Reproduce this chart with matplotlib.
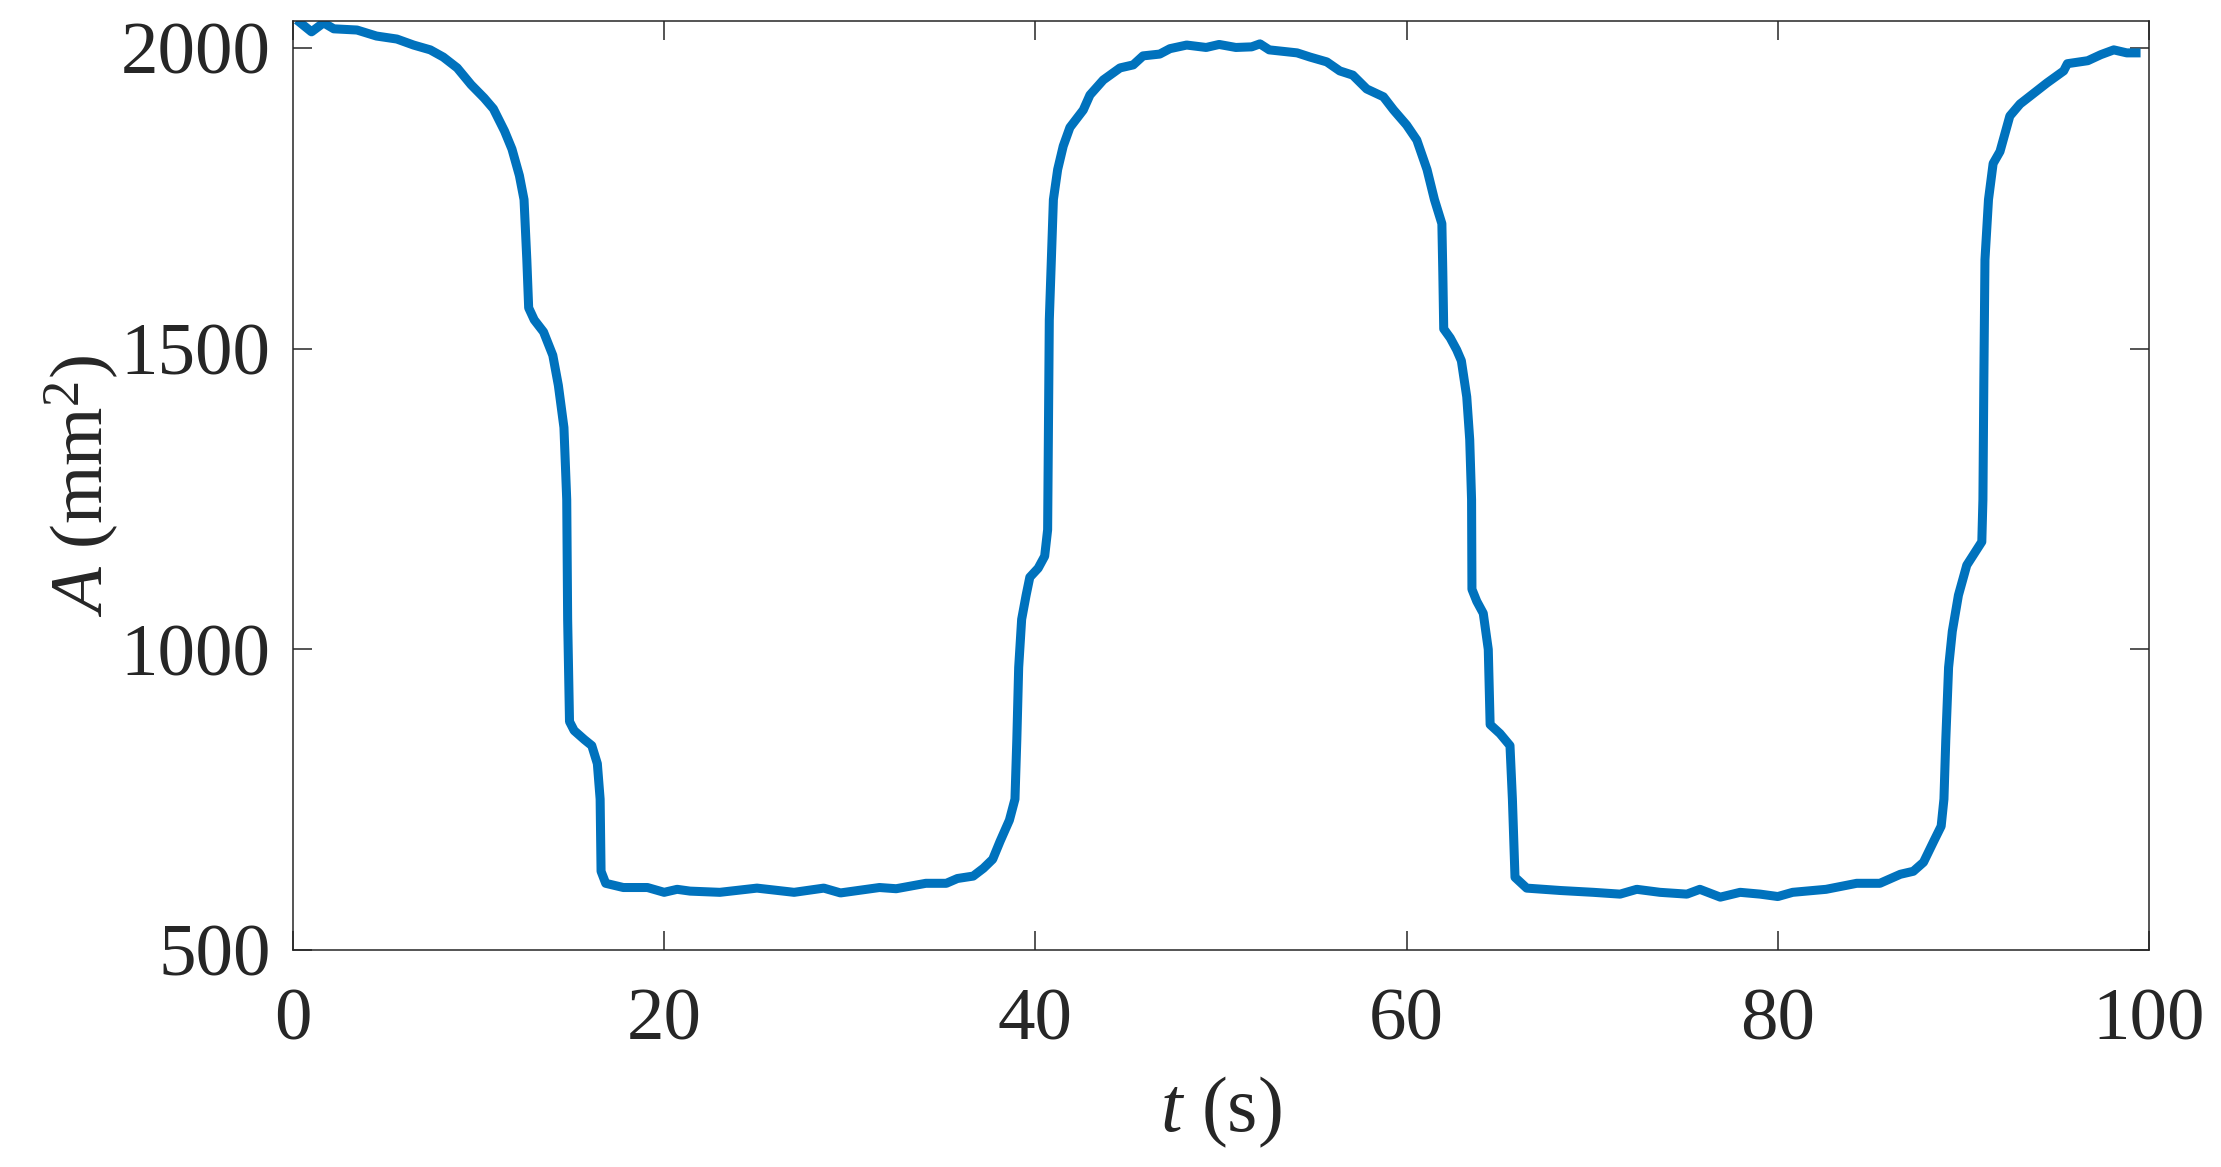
import numpy as np
import matplotlib
matplotlib.use("Agg")
import matplotlib.pyplot as plt

# --- data (time in s, area in mm^2) ---
t_s = [0.4, 1.0, 1.65, 2.2, 3.45, 4.5, 5.6, 6.5, 7.4, 8.1, 8.85, 9.6, 10.3, 10.8,
       11.4, 11.8, 12.2, 12.45, 12.6, 12.7, 13.0, 13.5, 14.0, 14.3, 14.6, 14.75,
       14.8, 14.9, 15.15, 15.7, 16.1, 16.4, 16.55, 16.6, 16.85, 17.8, 19.1, 20.0,
       20.7, 21.4, 23.0, 25.0, 27.0, 28.6, 29.5, 31.6, 32.5, 34.1, 35.2, 35.8,
       36.65, 37.2, 37.7, 38.1, 38.6, 38.9, 39.0, 39.1, 39.26, 39.5, 39.7, 40.15,
       40.5, 40.66, 40.7, 40.75, 40.88, 40.97, 41.2, 41.5, 41.86, 42.58, 42.94,
       43.66, 44.56, 45.27, 45.8, 46.7, 47.25, 48.15, 49.2, 49.9, 50.8, 51.65,
       52.1, 52.6, 54.1, 54.8, 55.7, 56.4, 57.1, 57.85, 58.75, 59.3, 60.0, 60.55,
       61.1, 61.5, 61.9, 61.95, 62.0, 62.35, 62.7, 62.95, 63.24, 63.4, 63.5,
       63.52, 63.78, 64.13, 64.4, 64.5, 65.03, 65.57, 65.7, 65.84, 66.47, 68.3,
       70.06, 71.5, 72.4, 73.65, 75.1, 75.8, 76.9, 77.97, 79.05, 80.0, 80.8,
       82.6, 84.25, 85.5, 86.6, 87.3, 87.85, 88.4, 88.8, 88.95, 89.05, 89.2,
       89.4, 89.73, 90.18, 90.7, 90.99, 91.05, 91.1, 91.16, 91.35, 91.6, 91.97,
       92.5, 93.05, 93.8, 94.5, 95.4, 95.6, 96.7, 97.4, 98.1, 98.8, 99.3]
area_mm2 = [2042, 2027, 2042, 2032, 2030, 2020, 2015, 2005, 1997, 1985, 1967, 1939,
            1917, 1899, 1862, 1832, 1788, 1748, 1648, 1568, 1548, 1528, 1489, 1439,
            1369, 1249, 1050, 880, 865, 850, 840, 810, 751, 631, 611, 604, 604, 596,
            601, 598, 596, 603, 596, 603, 595, 604, 602, 611, 611, 619, 623, 636,
            651, 681, 716, 751, 850, 970, 1050, 1090, 1120, 1135, 1155, 1199, 1349,
            1548, 1668, 1748, 1798, 1837, 1868, 1897, 1922, 1947, 1967, 1972, 1987,
            1990, 1999, 2005, 2001, 2006, 2001, 2002, 2007, 1997, 1992, 1985, 1977,
            1962, 1955, 1932, 1919, 1897, 1872, 1847, 1798, 1748, 1708, 1628, 1533,
            1518, 1498, 1480, 1420, 1349, 1249, 1100, 1080, 1060, 1000, 875, 860,
            840, 751, 621, 603, 599, 596, 593, 601, 596, 593, 601, 588, 596, 593,
            589, 596, 601, 611, 611, 626, 631, 646, 681, 706, 751, 850, 970, 1030,
            1090, 1140, 1165, 1179, 1249, 1449, 1648, 1748, 1808, 1828, 1887, 1907,
            1925, 1942, 1962, 1974, 1979, 1989, 1997, 1992, 1992]

x_ticks = [0, 20, 40, 60, 80, 100]
y_ticks = [500, 1000, 1500, 2000]

plt.rcParams['font.family'] = ['Liberation Serif', 'DejaVu Serif']
plt.rcParams['mathtext.fontset'] = 'custom'
plt.rcParams['mathtext.rm'] = 'Liberation Serif'
plt.rcParams['mathtext.it'] = 'Liberation Serif:italic'

dark = '#262626'
fig = plt.figure(figsize=(22.21, 11.67), dpi=100)
ax = fig.add_axes([0.1319, 0.1859, 0.8357, 0.7961])

ax.plot(t_s, area_mm2, color='#0072BD', linewidth=6.5, solid_joinstyle='round')

ax.set_xlim(0, 100)
ax.set_ylim(500, 2045)
ax.set_xticks(x_ticks)
ax.set_yticks(y_ticks)

for s in ax.spines.values():
    s.set_color(dark)
    s.set_linewidth(1.1)
ax.tick_params(direction='in', top=True, right=True, length=13.5, width=1.1,
               color=dark, labelcolor=dark, labelsize=54)
ax.tick_params(axis='x', pad=27)
ax.tick_params(axis='y', pad=16)

ax.set_xlabel(r'$\mathit{t}$ (s)', fontsize=56, color=dark, labelpad=14)
ax.set_ylabel(r'$\mathit{A}$ (mm$^2$)', fontsize=54, color=dark, labelpad=0)

fig.savefig('out.png', dpi=100, facecolor='white')
